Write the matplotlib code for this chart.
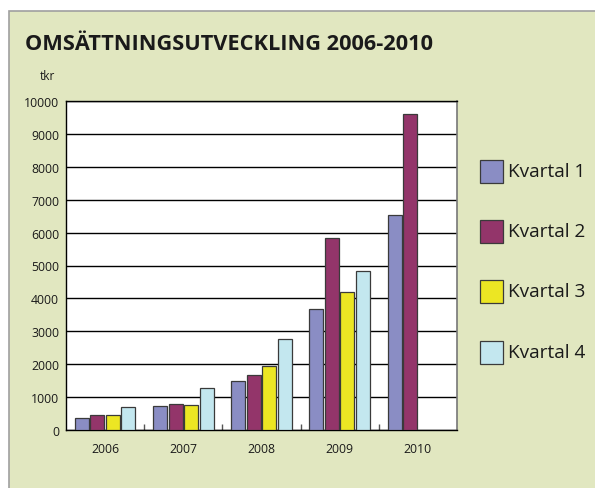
import matplotlib.pyplot as plt
import numpy as np
from matplotlib.patches import Rectangle

plt.rcParams['font.family'] = ['Open Sans', 'DejaVu Sans']

years = ["2006", "2007", "2008", "2009", "2010"]
kvartal_1 = [355, 720, 1476, 3680, 6530]
kvartal_2 = [467, 800, 1680, 5830, 9620]
kvartal_3 = [460, 770, 1960, 4195, 0]
kvartal_4 = [690, 1273, 2770, 4820, 0]
series = [kvartal_1, kvartal_2, kvartal_3, kvartal_4]
labels = ["Kvartal 1", "Kvartal 2", "Kvartal 3", "Kvartal 4"]
colors = ["#8a8dc4", "#93356a", "#ece623", "#c3e7ef"]

fig = plt.figure(figsize=(5.95, 4.89), dpi=100)

# green background panel with grey border
fig.patches.append(Rectangle((9 / 595, -0.01), 0.99, (489 - 12) / 489 + 0.01,
                             transform=fig.transFigure, facecolor="#e1e7c0",
                             edgecolor="#a0a0a0", linewidth=1.2, zorder=-5))

ax = fig.add_axes([66 / 595, 58 / 489, 391 / 595, 329 / 489])
ax.set_zorder(1)
ax.set_facecolor("white")

x = np.arange(len(years))
step = 0.198
width = 0.179
for j, vals in enumerate(series):
    vals = np.array(vals, dtype=float)
    mask = vals > 0
    ax.bar(x[mask] + (j - 1.5) * step, vals[mask], width, color=colors[j],
           edgecolor="#3a3a3a", linewidth=0.9, zorder=3, label=labels[j])

ax.set_xlim(-0.5, 4.5)
ax.set_ylim(0, 10000)
ax.set_yticks(np.arange(0, 10001, 1000))
ax.yaxis.grid(True, color="black", linewidth=1.0, zorder=1)
ax.set_axisbelow(True)
ax.set_xticks(x)
ax.set_xticklabels(years, fontsize=8.8, color="#1a1a1a")
ax.tick_params(axis="x", length=0, pad=9)
ax.tick_params(axis="y", length=0, pad=5, labelsize=8.8, labelcolor="#1a1a1a")
ax.set_xticks([0.5, 1.5, 2.5, 3.5], minor=True)
ax.tick_params(axis="x", which="minor", direction="in", length=4, color="#555555", width=1)

for side in ["left", "bottom", "top"]:
    ax.spines[side].set_color("black")
    ax.spines[side].set_linewidth(1.0)
ax.spines["right"].set_color("#777777")
ax.spines["right"].set_linewidth(1.2)

fig.text(25 / 595, 1 - 45 / 489, "OMSÄTTNINGSUTVECKLING 2006-2010",
         fontsize=15.7, fontweight="bold", color="#1a1a1a", va="center", ha="left")
fig.text(47 / 595, 1 - 76 / 489, "tkr", fontsize=8.5, color="#1a1a1a", va="center", ha="center")

# legend drawn as squares beside the plot
ys = [172, 232, 292, 353]
for j, yc in enumerate(ys):
    fig.patches.append(Rectangle((480 / 595, (489 - yc - 11.5) / 489), 23 / 595, 23 / 489,
                                 transform=fig.transFigure, facecolor=colors[j],
                                 edgecolor="#3a3a3a", linewidth=0.9, zorder=2))
    fig.text(508 / 595, 1 - yc / 489, labels[j], fontsize=13.7, color="#1a1a1a",
             va="center", ha="left")

plt.savefig("out.png", dpi=100)
